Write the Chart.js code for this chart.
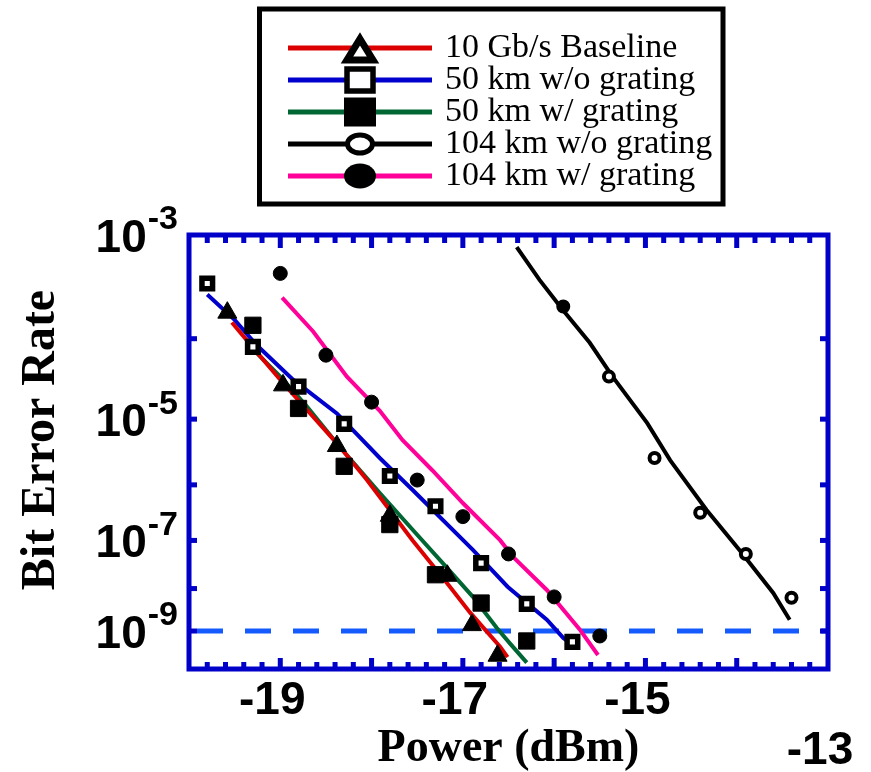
<!DOCTYPE html>
<html>
<head>
<meta charset="utf-8">
<title>Bit Error Rate vs Power</title>
<script src="https://cdn.jsdelivr.net/npm/chart.js@4.4.1/dist/chart.umd.min.js"></script>
<style>
  html, body { margin: 0; padding: 0; background: #fff; }
  canvas { display: block; }
</style>
</head>
<body>
<canvas id="ber-chart" width="871" height="772"></canvas>
<script>
// axis ranges
const xMin = -20;
const xMax = -13;
const xTickValues = [-19, -17, -15, -13];
const berTop = 1e-3;
const berBottom = 1e-10;
const yLabelExps = [3, 5, 7, 9];
const yTickExps = [4, 5, 6, 7, 8, 9];
const thresholdBer = 1e-9;

const seriesLabels = ["10 Gb/s Baseline", "50 km w/o grating", "50 km w/ grating", "104 km w/o grating", "104 km w/ grating"];
const seriesColors = ["#dd0000", "#0000cc", "#006633", "#000000", "#ff0099"];

// measured points (markers)
const baselinePower = [-19.58, -18.97, -18.38, -17.80, -17.17, -16.90, -16.62];
const baselineBer = [1.9e-4, 2.8e-5, 4.1e-6, 2.9e-7, 1.9e-8, 1.4e-9, 2.3e-10];

const km50NoGratingPower = [-19.8, -19.3, -18.8, -18.3, -17.8, -17.3, -16.8, -16.3, -15.8];
const km50NoGratingBer = [3.7e-4, 8.1e-5, 2.7e-5, 8.6e-6, 1.4e-6, 4.3e-7, 3.5e-8, 4.5e-9, 5.3e-10];

const km50GratingPower = [-19.3, -18.8, -18.3, -17.8, -17.3, -16.8, -16.3];
const km50GratingBer = [1.4e-4, 1.4e-5, 2.0e-6, 2.0e-7, 2.0e-8, 4.7e-9, 5.6e-10];

const km104NoGratingPower = [-15.9, -15.4, -14.9, -14.4, -13.9, -13.4];
const km104NoGratingBer = [2.2e-4, 3.6e-5, 2.7e-6, 3.3e-7, 5.4e-8, 6.2e-9];

const km104GratingPower = [-19.0, -18.5, -18.0, -17.5, -17.0, -16.5, -16.0, -15.5];
const km104GratingBer = [4.6e-4, 6.5e-5, 1.7e-5, 1.2e-6, 2.8e-7, 5.4e-8, 6.5e-9, 7.5e-10];

// fitted curves
const baselineFitPower = [-19.53, -19.26, -18.97, -18.38, -18.05, -17.55, -17.17, -16.92, -16.59, -16.51];
const baselineFitBer = [1.5e-4, 7.1e-5, 3.0e-5, 4.5e-6, 1.2e-6, 1.0e-7, 1.3e-8, 2.8e-9, 3.9e-10, 2.1e-10];

const km50NoGratingFitPower = [-19.80, -19.50, -19.26, -18.86, -18.38, -17.91, -17.55, -16.89, -16.51, -16.08, -15.90, -15.76];
const km50NoGratingFitBer = [2.9e-4, 1.6e-4, 8.5e-5, 3.3e-5, 1.2e-5, 2.7e-6, 8.2e-7, 6.5e-8, 1.1e-8, 1.9e-9, 6.7e-10, 3.9e-10];

const km50GratingFitPower = [-19.26, -19.00, -18.71, -18.35, -17.91, -17.55, -17.22, -16.89, -16.63, -16.48, -16.30];
const km50GratingFitBer = [6.9e-5, 3.6e-5, 1.5e-5, 4.0e-6, 7.3e-7, 1.6e-7, 3.5e-8, 6.5e-9, 1.2e-9, 4.7e-10, 1.5e-10];

const km104NoGratingFitPower = [-16.41, -16.16, -15.90, -15.61, -15.36, -14.98, -14.73, -14.33, -13.97, -13.60, -13.42];
const km104NoGratingFitBer = [7.9e-4, 4.0e-4, 2.0e-4, 9.0e-5, 3.6e-5, 8.8e-6, 2.5e-6, 3.7e-7, 6.5e-8, 8.0e-9, 1.9e-9];

const km104GratingFitPower = [-18.98, -18.64, -18.27, -17.91, -17.66, -17.33, -17.00, -16.59, -16.45, -16.08, -15.72, -15.52];
const km104GratingFitBer = [2.7e-4, 1.2e-4, 3.6e-5, 1.3e-5, 5.0e-6, 1.7e-6, 4.9e-7, 1.0e-7, 4.7e-8, 9.3e-9, 1.1e-9, 2.4e-10];

const frameColor = "#0000c8";
const numFont = '"Liberation Sans", Arial, sans-serif';
const serifFont = '"Liberation Serif", "Times New Roman", serif';

// BER plotted on the usual log(-log) scale
const toQ = (ber) => Math.log10(-Math.log10(ber));
const pairs = (xs, bers) => xs.map((x, i) => ({ x, y: toQ(bers[i]) }));

const fits = [
  pairs(baselineFitPower, baselineFitBer),
  pairs(km50NoGratingFitPower, km50NoGratingFitBer),
  pairs(km50GratingFitPower, km50GratingFitBer),
  pairs(km104NoGratingFitPower, km104NoGratingFitBer),
  pairs(km104GratingFitPower, km104GratingFitBer),
];
const marks = [
  pairs(baselinePower, baselineBer),
  pairs(km50NoGratingPower, km50NoGratingBer),
  pairs(km50GratingPower, km50GratingBer),
  pairs(km104NoGratingPower, km104NoGratingBer),
  pairs(km104GratingPower, km104GratingBer),
];
const markStyles = [
  { pointStyle: "triangle", pointRadius: 11, pointBackgroundColor: "#000", pointBorderWidth: 1 },
  { pointStyle: "rect", pointRadius: 7.5, pointBackgroundColor: "#fff", pointBorderWidth: 5.5 },
  { pointStyle: "rect", pointRadius: 11.5, pointBackgroundColor: "#000", pointBorderWidth: 1 },
  { pointStyle: "circle", pointRadius: 5, pointBorderWidth: 4,
    pointBackgroundColor: km104NoGratingPower.map((_, i) => (i === 0 ? "#000" : "#fff")) },
  { pointStyle: "circle", pointRadius: 7, pointBackgroundColor: "#000", pointBorderWidth: 1 },
];

const datasets = [];
seriesLabels.forEach((label, i) => {
  datasets.push({
    label: label + " fit",
    data: fits[i],
    borderColor: seriesColors[i],
    borderWidth: 4,
    pointRadius: 0,
    tension: 0,
    order: 1,
  });
  datasets.push({
    label,
    data: marks[i],
    showLine: false,
    pointBorderColor: "#000",
    order: 0,
    ...markStyles[i],
  });
});
datasets.push({
  label: "BER 1e-9",
  data: [{ x: xMin, y: toQ(thresholdBer) }, { x: xMax, y: toQ(thresholdBer) }],
  borderColor: "#145aff",
  borderWidth: 5,
  borderDash: [26, 22],
  borderDashOffset: 40,
  pointRadius: 0,
  order: 2,
});

function drawLegendMarker(ctx, i, x, y) {
  ctx.fillStyle = "#000";
  ctx.strokeStyle = "#000";
  ctx.lineJoin = "miter";
  ctx.beginPath();
  if (i === 0) {
    ctx.moveTo(x, y - 9);
    ctx.lineTo(x + 13, y + 12);
    ctx.lineTo(x - 13, y + 12);
    ctx.closePath();
    ctx.fillStyle = "#fff";
    ctx.fill();
    ctx.lineWidth = 7;
    ctx.stroke();
  } else if (i === 1) {
    ctx.rect(x - 13, y - 11, 26, 22);
    ctx.fillStyle = "#fff";
    ctx.fill();
    ctx.lineWidth = 5.5;
    ctx.stroke();
  } else if (i === 2) {
    ctx.fillRect(x - 16, y - 14.5, 32, 29);
  } else if (i === 3) {
    ctx.ellipse(x, y, 12.5, 9, 0, 0, Math.PI * 2);
    ctx.fillStyle = "#fff";
    ctx.fill();
    ctx.lineWidth = 5;
    ctx.stroke();
  } else {
    ctx.ellipse(x, y, 16, 12.5, 0, 0, Math.PI * 2);
    ctx.fill();
  }
}

const legendBox = {
  id: "legendBox",
  afterDraw(chart) {
    const ctx = chart.ctx;
    ctx.save();
    ctx.strokeStyle = "#000";
    ctx.lineWidth = 5;
    ctx.strokeRect(259.5, 9, 463.5, 195);
    seriesLabels.forEach((label, i) => {
      const cy = 48 + i * 32;
      ctx.strokeStyle = seriesColors[i];
      ctx.lineWidth = 5;
      ctx.beginPath();
      ctx.moveTo(288, cy);
      ctx.lineTo(432, cy);
      ctx.stroke();
      drawLegendMarker(ctx, i, 360, cy);
      ctx.fillStyle = "#000";
      ctx.font = "34px " + serifFont;
      ctx.textAlign = "left";
      ctx.textBaseline = "middle";
      ctx.fillText(label, 445, cy);
    });
    ctx.restore();
  },
};

const frameAndTicks = {
  id: "frameAndTicks",
  afterDatasetsDraw(chart) {
    const { ctx, chartArea: a, scales: { x, y } } = chart;
    ctx.save();
    ctx.fillStyle = frameColor;
    // x minor ticks every 0.2 dBm, major every 1 dBm, on top and bottom
    for (let k = 1; k < 35; k++) {
      const px = x.getPixelForValue(xMin + k * 0.2);
      const major = k % 5 === 0;
      ctx.fillRect(px - 2.5, a.top, 5, major ? 13 : 8);
      ctx.fillRect(px - 2.5, a.bottom - (major ? 11 : 7), 5, major ? 11 : 7);
    }
    yTickExps.forEach((n) => {
      const py = y.getPixelForValue(toQ(Math.pow(10, -n)));
      ctx.fillRect(a.left, py - 2.5, 8, 5);
      ctx.fillRect(a.right - 8, py - 2.5, 8, 5);
    });
    ctx.strokeStyle = frameColor;
    ctx.lineWidth = 5;
    ctx.strokeRect(a.left, a.top, a.right - a.left, a.bottom - a.top);
    ctx.restore();
  },
  afterDraw(chart) {
    const { ctx, chartArea: a, scales: { y } } = chart;
    ctx.save();
    ctx.fillStyle = "#000";
    ctx.textBaseline = "middle";
    const right = a.left - 11;
    yLabelExps.forEach((n) => {
      const py = y.getPixelForValue(toQ(Math.pow(10, -n)));
      const sup = "-" + n;
      ctx.font = "bold 34px " + numFont;
      const ws = ctx.measureText(sup).width;
      ctx.textAlign = "left";
      ctx.fillText(sup, right - ws, py - 15);
      ctx.font = "bold 46px " + numFont;
      ctx.textAlign = "right";
      ctx.fillText("10", right - ws - 1, py + 4);
    });
    ctx.restore();
  },
};

new Chart(document.getElementById("ber-chart"), {
  type: "line",
  data: { datasets },
  plugins: [frameAndTicks, legendBox],
  options: {
    responsive: false,
    animation: false,
    devicePixelRatio: 1,
    events: [],
    layout: { padding: { top: 235, right: 43, bottom: 0, left: 0 } },
    plugins: {
      legend: { display: false },
      tooltip: { enabled: false },
    },
    scales: {
      x: {
        type: "linear",
        min: xMin,
        max: xMax,
        grid: { display: false, drawTicks: false },
        border: { display: false },
        afterBuildTicks: (s) => {
          s.ticks = xTickValues.map((value) => ({ value }));
        },
        afterFit: (s) => {
          s.height = 103;
          s.paddingLeft = 0;
          s.paddingRight = 0;
        },
        ticks: {
          autoSkip: false,
          maxRotation: 0,
          minRotation: 0,
          padding: 8,
          labelOffset: -8,
          color: "#000",
          font: { family: numFont, size: 46, weight: "bold", lineHeight: 1.07 },
          callback: (value) => (value === xMax ? ["", String(value)] : String(value)),
        },
        title: {
          display: true,
          text: "Power (dBm)",
          color: "#000",
          padding: { top: 0, bottom: 0 },
          font: { family: serifFont, size: 46, weight: "bold", lineHeight: 1.0 },
        },
      },
      y: {
        type: "linear",
        reverse: true,
        min: toQ(berTop),
        max: toQ(berBottom),
        grid: { display: false, drawTicks: false },
        border: { display: false },
        ticks: { display: false },
        afterFit: (s) => {
          s.width = 189;
          s.paddingTop = 0;
          s.paddingBottom = 0;
        },
        title: {
          display: true,
          text: "  Bit Error Rate",
          color: "#000",
          padding: { top: 13, bottom: 0 },
          font: { family: serifFont, size: 48, weight: "bold" },
        },
      },
    },
  },
});
</script>
</body>
</html>
